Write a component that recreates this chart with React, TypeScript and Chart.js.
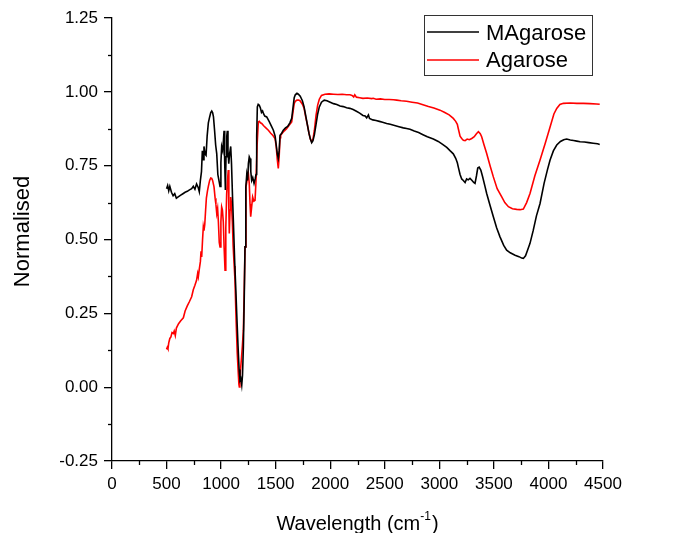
import React, { useEffect, useRef } from "react";
import { Chart, registerables } from "chart.js";

Chart.register(...registerables);

// ---------------- data ----------------
const seriesLabels = ["MAgarose", "Agarose"];

const xTicks = [0, 500, 1000, 1500, 2000, 2500, 3000, 3500, 4000, 4500];
const yTicks = [-0.25, 0, 0.25, 0.5, 0.75, 1.0, 1.25];

const magaroseX = [
  500, 510, 520, 530, 545, 560, 575, 590, 610, 630, 650, 670, 690, 710, 730, 745, 760, 775, 790, 800,
  810, 820, 828, 835, 843, 852, 862, 872, 883, 895, 905, 914, 922, 930, 940, 950, 960, 970, 980, 990,
  998, 1005, 1015, 1027, 1033, 1039, 1045, 1052, 1057, 1063, 1070, 1078, 1088, 1095, 1105, 1112, 1125, 1135, 1143, 1155,
  1165, 1173, 1180, 1189, 1196, 1204, 1212, 1219, 1225, 1228, 1235, 1243, 1250, 1258, 1265, 1272, 1280, 1290, 1302, 1312,
  1320, 1326, 1332, 1340, 1350, 1360, 1370, 1380, 1390, 1400, 1418, 1440, 1460, 1479, 1495, 1505, 1515, 1524, 1532, 1540,
  1555, 1570, 1590, 1610, 1630, 1647, 1660, 1670, 1680, 1695, 1708, 1725, 1745, 1760, 1775, 1790, 1805, 1818, 1830, 1842,
  1855, 1870, 1885, 1900, 1920, 1945, 1970, 2000, 2030, 2060, 2090, 2120, 2150, 2180, 2210, 2240, 2270, 2300, 2320, 2334,
  2350, 2360, 2390, 2420, 2450, 2480, 2517, 2550, 2590, 2630, 2670, 2700, 2731, 2770, 2810, 2850, 2890, 2945, 2990, 3030,
  3068, 3100, 3128, 3150, 3165, 3174, 3190, 3205, 3220, 3236, 3250, 3265, 3281, 3300, 3315, 3327, 3340, 3352, 3365, 3380,
  3395, 3415, 3434, 3465, 3495, 3525, 3556, 3590, 3617, 3650, 3694, 3730, 3755, 3770, 3790, 3810, 3831, 3860, 3890, 3923,
  3960, 3990, 4015, 4045, 4076, 4110, 4140, 4167, 4200, 4230, 4260, 4290, 4330, 4370, 4410, 4450, 4470,
];
const magaroseY = [
  0.672, 0.683, 0.665, 0.68, 0.66, 0.648, 0.655, 0.64, 0.645, 0.65, 0.655, 0.66, 0.663, 0.668, 0.672, 0.68, 0.67, 0.688, 0.676, 0.662,
  0.7, 0.73, 0.8, 0.77, 0.815, 0.79, 0.785, 0.85, 0.895, 0.915, 0.93, 0.935, 0.93, 0.915, 0.87, 0.82, 0.79, 0.72, 0.7, 0.68,
  0.76, 0.815, 0.8, 0.868, 0.76, 0.668, 0.78, 0.85, 0.868, 0.8, 0.757, 0.79, 0.815, 0.76, 0.64, 0.566, 0.42, 0.33, 0.25, 0.14,
  0.06, 0.024, 0.03, 0.007, 0.04, 0.136, 0.3, 0.475, 0.6, 0.678, 0.72, 0.7, 0.757, 0.78, 0.774, 0.73, 0.7, 0.71, 0.69, 0.705,
  0.72, 0.85, 0.949, 0.958, 0.955, 0.945, 0.93, 0.935, 0.925, 0.918, 0.915, 0.9, 0.885, 0.87, 0.85, 0.82, 0.79, 0.775, 0.8, 0.853,
  0.86, 0.87, 0.878, 0.883, 0.895, 0.91, 0.95, 0.98, 0.99, 0.995, 0.992, 0.985, 0.97, 0.95, 0.92, 0.89, 0.86, 0.84, 0.828, 0.835,
  0.855, 0.89, 0.925, 0.949, 0.965, 0.972, 0.97, 0.965, 0.96, 0.957, 0.952, 0.95, 0.946, 0.944, 0.94, 0.934, 0.928, 0.92, 0.918, 0.912,
  0.922, 0.91, 0.905, 0.903, 0.9, 0.897, 0.893, 0.89, 0.886, 0.882, 0.878, 0.876, 0.873, 0.867, 0.862, 0.855, 0.848, 0.84, 0.832, 0.822,
  0.812, 0.8, 0.79, 0.775, 0.76, 0.745, 0.72, 0.705, 0.7, 0.693, 0.705, 0.702, 0.707, 0.7, 0.693, 0.69, 0.715, 0.742, 0.745, 0.735,
  0.715, 0.685, 0.656, 0.615, 0.577, 0.54, 0.509, 0.48, 0.464, 0.455, 0.447, 0.442, 0.437, 0.436, 0.445, 0.465, 0.487, 0.53, 0.58, 0.622,
  0.69, 0.735, 0.769, 0.8, 0.82, 0.832, 0.838, 0.84, 0.837, 0.835, 0.833, 0.831, 0.83, 0.828, 0.826, 0.824, 0.822,
];

const agaroseX = [
  500, 507, 513, 520, 530, 540, 550, 562, 570, 580, 590, 610, 630, 654, 670, 690, 710, 730, 745, 760,
  775, 785, 791, 800, 810, 816, 822, 830, 837, 843, 850, 858, 865, 875, 883, 895, 905, 914, 922, 935,
  945, 952, 960, 968, 975, 983, 990, 998, 1005, 1012, 1020, 1028, 1036, 1043, 1051, 1058, 1066, 1071, 1075, 1082,
  1088, 1095, 1103, 1110, 1120, 1127, 1138, 1148, 1157, 1163, 1167, 1172, 1178, 1185, 1195, 1204, 1212, 1219, 1228, 1238,
  1250, 1258, 1265, 1271, 1280, 1289, 1300, 1311, 1320, 1330, 1341, 1350, 1360, 1372, 1390, 1410, 1433, 1455, 1475, 1494,
  1505, 1515, 1524, 1532, 1540, 1546, 1560, 1580, 1600, 1620, 1647, 1660, 1670, 1680, 1695, 1710, 1723, 1745, 1760, 1775,
  1790, 1805, 1818, 1830, 1842, 1855, 1870, 1885, 1900, 1920, 1952, 1990, 2030, 2070, 2110, 2150, 2181, 2200, 2215, 2225,
  2240, 2270, 2300, 2340, 2380, 2395, 2420, 2460, 2500, 2540, 2580, 2609, 2650, 2700, 2750, 2800, 2850, 2900, 2950, 3006,
  3050, 3090, 3128, 3150, 3165, 3174, 3190, 3205, 3220, 3236, 3255, 3275, 3297, 3320, 3340, 3358, 3375, 3388, 3410, 3434,
  3465, 3495, 3530, 3572, 3600, 3633, 3670, 3709, 3740, 3770, 3800, 3831, 3875, 3923, 3970, 4015, 4050, 4076, 4105, 4137,
  4200, 4260, 4320, 4380, 4440, 4470,
];
const agaroseY = [
  0.128, 0.135, 0.13, 0.15, 0.165, 0.17, 0.185, 0.182, 0.19, 0.175, 0.2, 0.215, 0.225, 0.235, 0.258, 0.275, 0.29, 0.306, 0.33, 0.345,
  0.362, 0.385, 0.374, 0.4, 0.425, 0.46, 0.441, 0.5, 0.543, 0.53, 0.55, 0.6, 0.64, 0.665, 0.68, 0.7, 0.708, 0.707, 0.7, 0.678,
  0.64, 0.62, 0.588, 0.605, 0.56, 0.49, 0.475, 0.56, 0.61, 0.6, 0.56, 0.47, 0.396, 0.54, 0.656, 0.7, 0.735, 0.6, 0.52, 0.6,
  0.644, 0.62, 0.56, 0.48, 0.41, 0.362, 0.22, 0.114, 0.05, 0.01, 0.001, 0.01, 0.06, 0.091, 0.14, 0.193, 0.33, 0.475, 0.678, 0.7,
  0.723, 0.69, 0.62, 0.577, 0.61, 0.644, 0.63, 0.633, 0.7, 0.82, 0.898, 0.9, 0.895, 0.893, 0.885, 0.878, 0.87, 0.86, 0.852, 0.842,
  0.815, 0.77, 0.741, 0.78, 0.845, 0.853, 0.86, 0.868, 0.875, 0.885, 0.898, 0.935, 0.96, 0.968, 0.972, 0.972, 0.97, 0.958, 0.945, 0.915,
  0.89, 0.86, 0.84, 0.831, 0.84, 0.87, 0.92, 0.955, 0.975, 0.988, 0.992, 0.993, 0.992, 0.991, 0.992, 0.99, 0.99, 0.988, 0.983, 0.99,
  0.982, 0.98, 0.978, 0.979, 0.977, 0.978, 0.975, 0.976, 0.974, 0.974, 0.973, 0.972, 0.97, 0.968, 0.965, 0.962, 0.956, 0.95, 0.945, 0.938,
  0.93, 0.922, 0.91, 0.9, 0.89, 0.875, 0.85, 0.842, 0.836, 0.835, 0.84, 0.838, 0.842, 0.848, 0.858, 0.865, 0.858, 0.848, 0.82, 0.791,
  0.75, 0.712, 0.672, 0.644, 0.625, 0.611, 0.604, 0.602, 0.601, 0.603, 0.625, 0.656, 0.715, 0.769, 0.825, 0.881, 0.925, 0.944, 0.957, 0.961,
  0.962, 0.961, 0.961, 0.96, 0.959, 0.958,
];

const seriesColors = ["#000000", "#ff0000"];

const xTitle = "Wavelength (cm";
const xTitleSup = "-1";
const yTitle = "Normalised";

const FONT = "'Liberation Sans', Arial, Helvetica, sans-serif";

function zip(xs: number[], ys: number[]) {
  return xs.map((x, i) => ({ x, y: ys[i] }));
}

const decorPlugin = {
  id: "decor",
  afterDraw(chart: any) {
    const ctx = chart.ctx as CanvasRenderingContext2D;
    const xs = chart.scales.x;
    const ys = chart.scales.y;
    const area = chart.chartArea;
    ctx.save();
    ctx.strokeStyle = "#000";
    ctx.lineWidth = 1.3;
    // minor ticks x
    for (let v = 250; v < 4500; v += 500) {
      const px = Math.round(xs.getPixelForValue(v)) + 0.5;
      ctx.beginPath();
      ctx.moveTo(px, area.bottom);
      ctx.lineTo(px, area.bottom + 4);
      ctx.stroke();
    }
    // minor ticks y
    for (let v = -0.125; v < 1.25; v += 0.25) {
      const py = Math.round(ys.getPixelForValue(v)) + 0.5;
      ctx.beginPath();
      ctx.moveTo(area.left, py);
      ctx.lineTo(area.left - 4, py);
      ctx.stroke();
    }

    // x title with superscript
    ctx.fillStyle = "#000";
    ctx.textBaseline = "alphabetic";
    ctx.textAlign = "left";
    const xFont = `20px ${FONT}`;
    const supFont = `12px ${FONT}`;
    ctx.font = xFont;
    const w1 = ctx.measureText(xTitle).width;
    const w3 = ctx.measureText(")").width;
    ctx.font = supFont;
    const w2 = ctx.measureText(xTitleSup).width;
    const total = w1 + w2 + w3 + 1;
    const cx = (area.left + area.right) / 2;
    let tx = cx - total / 2;
    const baseY = 530;
    ctx.font = xFont;
    ctx.fillText(xTitle, tx, baseY);
    tx += w1;
    ctx.font = supFont;
    ctx.fillText(xTitleSup, tx, baseY - 10);
    tx += w2 + 1;
    ctx.font = xFont;
    ctx.fillText(")", tx, baseY);

    // y title
    ctx.save();
    ctx.translate(28.5, (area.top + area.bottom) / 2 - 8);
    ctx.rotate(-Math.PI / 2);
    ctx.textAlign = "center";
    ctx.font = `22px ${FONT}`;
    ctx.fillText(yTitle, 0, 0);
    ctx.restore();

    // legend
    const bx = 424.5, by = 15.5, bw = 168, bh = 60;
    ctx.strokeStyle = "#333";
    ctx.lineWidth = 1;
    ctx.strokeRect(bx, by, bw, bh);
    const rowsY = [32, 60];
    const baseRows = [39.5, 67];
    chart.data.datasets.forEach((ds: any, i: number) => {
      ctx.strokeStyle = ds.borderColor;
      ctx.lineWidth = 1.6;
      ctx.beginPath();
      ctx.moveTo(427, rowsY[i]);
      ctx.lineTo(479, rowsY[i]);
      ctx.stroke();
      ctx.fillStyle = "#000";
      ctx.font = `22px ${FONT}`;
      ctx.textAlign = "left";
      ctx.fillText(ds.label, 486, baseRows[i]);
    });
    ctx.restore();
  },
};

export default function App() {
  const ref = useRef<HTMLCanvasElement | null>(null);
  useEffect(() => {
    if (!ref.current) return;
    const chart = new Chart(ref.current, {
      type: "scatter",
      data: {
        datasets: [
          {
            label: seriesLabels[0],
            data: zip(magaroseX, magaroseY),
            borderColor: seriesColors[0],
            backgroundColor: seriesColors[0],
            showLine: true,
            pointRadius: 0,
            borderWidth: 1.6,
            tension: 0,
          },
          {
            label: seriesLabels[1],
            data: zip(agaroseX, agaroseY),
            borderColor: seriesColors[1],
            backgroundColor: seriesColors[1],
            showLine: true,
            pointRadius: 0,
            borderWidth: 1.6,
            tension: 0,
          },
        ],
      },
      options: {
        responsive: false,
        animation: false,
        devicePixelRatio: 1,
        layout: { padding: { left: 0, top: 18, right: 79, bottom: 0 } },
        plugins: { legend: { display: false }, tooltip: { enabled: false } },
        scales: {
          x: {
            type: "linear",
            min: 0,
            max: 4500,
            afterBuildTicks: (s: any) => {
              s.ticks = xTicks.map((v) => ({ value: v }));
            },
            afterFit: (s: any) => {
              s.height = 72;
            },
            ticks: {
              color: "#000",
              font: { family: FONT, size: 17 },
              padding: 5,
              maxRotation: 0,
              autoSkip: false,
              callback: (v: any) => String(v),
            },
            grid: {
              drawOnChartArea: false,
              drawTicks: true,
              tickLength: 8,
              color: "#000",
              lineWidth: 1.3,
            },
            border: { display: true, color: "#000", width: 1.3 },
          },
          y: {
            type: "linear",
            min: -0.25,
            max: 1.25,
            afterBuildTicks: (s: any) => {
              s.ticks = yTicks.map((v) => ({ value: v }));
            },
            afterFit: (s: any) => {
              s.width = 112;
            },
            ticks: {
              color: "#000",
              font: { family: FONT, size: 17 },
              padding: 6,
              autoSkip: false,
              callback: (v: any) => Number(v).toFixed(2),
            },
            grid: {
              drawOnChartArea: false,
              drawTicks: true,
              tickLength: 8,
              color: "#000",
              lineWidth: 1.3,
            },
            border: { display: true, color: "#000", width: 1.3 },
          },
        },
      },
      plugins: [decorPlugin],
    });
    return () => chart.destroy();
  }, []);
  return (
    <div style={{ position: "absolute", left: 0, top: 0, width: 682, height: 533, background: "#fff" }}>
      <canvas ref={ref} width={682} height={533} style={{ display: "block" }} />
    </div>
  );
}
